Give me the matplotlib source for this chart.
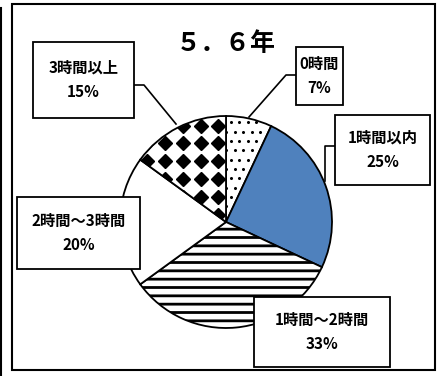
import numpy as np
import matplotlib.pyplot as plt
from matplotlib.patches import Rectangle

plt.rcParams['font.family'] = ['Noto Sans CJK JP', 'DejaVu Sans']
plt.rcParams['hatch.linewidth'] = 2.0

title = "５．６年"
labels = ["0時間", "1時間以内", "1時間～2時間", "2時間～3時間", "3時間以上"]
values = [7, 25, 33, 20, 15]
pct_text = ["7%", "25%", "33%", "20%", "15%"]

W, H = 438, 376
fig = plt.figure(figsize=(W / 100, H / 100), dpi=100)

# pie: centre (226, 222) px, radius 106 px
cx, cy, r = 226, 222, 106
pax = fig.add_axes([(cx - r) / W, (H - cy - r) / H, 2 * r / W, 2 * r / H])
wedges, _ = pax.pie(values, startangle=90, counterclock=False,
                    colors=["white", "#4f81bd", "white", "white", "white"],
                    wedgeprops=dict(edgecolor="black", linewidth=1.3))
pax.set_xlim(-1, 1)
pax.set_ylim(-1, 1)
pax.set_aspect("auto")
pax.axis("off")

# 1-2 hours: thick horizontal stripes
wedges[2].set_hatch("--")

# 0 hours: small dots pattern
step = 8.5 / r
gx, gy = np.meshgrid(np.arange(-1, 1, step), np.arange(-1, 1, step * 1.1))
gx = gx + (np.arange(gx.shape[0])[:, None] % 2) * step / 2
dots, = pax.plot(gx.ravel(), gy.ravel(), ls="none", marker="o", ms=1.2,
                 color="black", zorder=3)
dots.set_clip_path(wedges[0])

# 3+ hours: black diamonds pattern
step = 17.8 / r
gx, gy = np.meshgrid(np.arange(-1 - 0.08, 1, step), np.arange(-1 + 0.23, 1, step))
dia, = pax.plot(gx.ravel(), gy.ravel(), ls="none", marker="D", ms=7,
                color="black", zorder=3)
dia.set_clip_path(wedges[4])
for w in wedges:
    w.set_zorder(2)

# overlay in pixel coordinates for frame, boxes and labels
ax = fig.add_axes([0, 0, 1, 1], facecolor="none")
ax.set_xlim(0, W)
ax.set_ylim(H, 0)
ax.axis("off")

ax.add_patch(Rectangle((12, 4), 423, 366, fill=False, lw=1.5, ec="black"))
ax.plot([1, 1], [8, 376], color="black", lw=1.5)

ax.text(226, 44, title, ha="center", va="center", fontsize=18,
        fontweight="bold")

# label boxes: x0, y0, x1, y1 for each category
boxes = [(296, 47, 343, 105), (335, 115, 430, 185), (254, 297, 390, 367),
         (17, 197, 140, 269), (33, 42, 134, 118)]
leaders = [[(296, 75), (286, 75), (249, 117)],
           [(335, 146), (325, 146), (325, 181)],
           None, None,
           [(134, 85), (144, 85), (176, 124)]]

for lab, pc, (x0, y0, x1, y1), ld in zip(labels, pct_text, boxes, leaders):
    if ld:
        xs, ys = zip(*ld)
        ax.plot(xs, ys, color="black", lw=1.2, zorder=4)
    ax.add_patch(Rectangle((x0, y0), x1 - x0, y1 - y0, fc="white",
                           ec="black", lw=1.3, zorder=5))
    xm = (x0 + x1) / 2
    ym = (y0 + y1) / 2
    ax.text(xm, ym - 12, lab, ha="center", va="center", fontsize=11,
            fontweight="bold", zorder=6)
    ax.text(xm, ym + 12, pc, ha="center", va="center", fontsize=11,
            fontweight="bold", zorder=6)

fig.savefig("out.png", dpi=100)
